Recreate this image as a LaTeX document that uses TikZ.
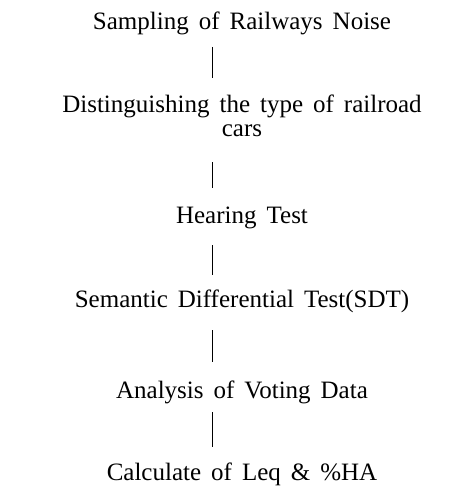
\documentclass[tikz,border=0pt]{standalone}
\usepackage{fontspec}
\setmainfont{Liberation Serif}[WordSpace=1.6]
\usetikzlibrary{calc}
\begin{document}
\begin{tikzpicture}[x=1pt,y=-1pt,
  stepnode/.style={inner sep=0pt, anchor=base, align=center, font=\fontsize{25}{24}\selectfont},
  conn/.style={line width=0.9pt, black}]
\useasboundingbox (0,0) rectangle (448,497);
\fill[white] (0,0) rectangle (448,497);
\coordinate (lx) at (212,0);
\node[stepnode] (s1) at (242,30) {Sampling of Railways Noise};
\node[stepnode] (s2) at (242,137) {Distinguishing the type of railroad\\cars};
\node[stepnode] (s3) at (242,223) {Hearing Test};
\node[stepnode] (s4) at (242,307) {Semantic Differential Test(SDT)};
\node[stepnode] (s5) at (242,398) {Analysis of Voting Data};
\node[stepnode] (s6) at (242,480) {Calculate of Leq \& \%HA};
\draw[conn] ($(s1.base -| lx)+(0,17)$) -- ($(s2.base -| lx)+(0,-59)$);
\draw[conn] ($(s2.base -| lx)+(0,25)$) -- ($(s3.base -| lx)+(0,-35)$);
\draw[conn] ($(s3.base -| lx)+(0,22)$) -- ($(s4.base -| lx)+(0,-32)$);
\draw[conn] ($(s4.base -| lx)+(0,23)$) -- ($(s5.base -| lx)+(0,-36)$);
\draw[conn] ($(s5.base -| lx)+(0,14)$) -- ($(s6.base -| lx)+(0,-33)$);
\end{tikzpicture}
\end{document}
